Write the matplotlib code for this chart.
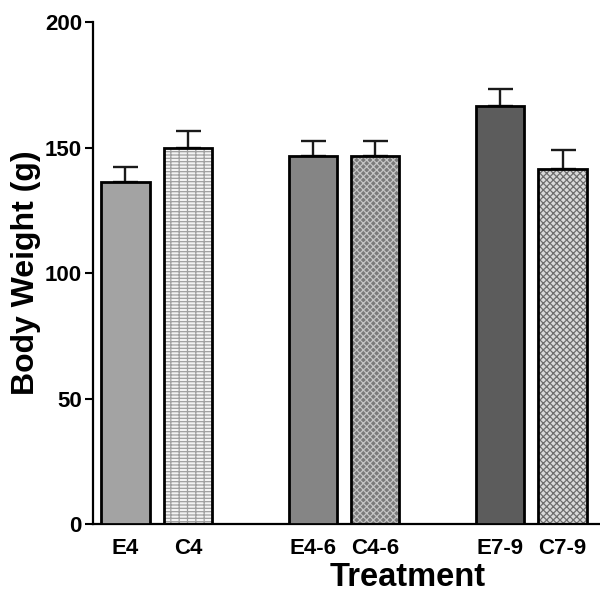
import matplotlib
matplotlib.use("Agg")
import matplotlib.pyplot as plt

# data
groups = ["E4", "C4", "E4-6", "C4-6", "E7-9", "C7-9"]
positions = [0, 1, 3, 4, 6, 7]
weights = [136.4, 150.0, 146.8, 146.5, 166.5, 141.3]
sem = [5.8, 6.8, 6.0, 6.0, 6.7, 7.6]

face_colors = ["#a3a3a3", "#f4f4f4", "#858585", "#7a7a7a", "#5c5c5c", "#dadada"]
hatches = [None, "-----||", None, "xxxxx", None, "xxxxx"]
hatch_colors = [None, "#a0a0a0", None, "#c4c4c4", None, "#6e6e6e"]

plt.rcParams["font.family"] = ["Liberation Sans", "DejaVu Sans"]
plt.rcParams["font.weight"] = "bold"
plt.rcParams["hatch.linewidth"] = 0.9

fig = plt.figure(figsize=(6.0, 5.97), dpi=100)
ax = fig.add_axes([0.155, 0.1223, 0.845, 0.8406])

width = 0.77
for x, y, fc, h, hc in zip(positions, weights, face_colors, hatches, hatch_colors):
    if h:
        # hatch is drawn in the edge colour, so draw the outline separately
        ax.bar(x, y, width, color=fc, edgecolor=hc, hatch=h, linewidth=0, zorder=2)
        ax.bar(x, y, width, fill=False, edgecolor="black", linewidth=2.0, zorder=3)
    else:
        ax.bar(x, y, width, color=fc, edgecolor="black", linewidth=2.0, zorder=3)

ax.errorbar(positions, weights, yerr=[[0] * len(sem), sem], fmt="none",
            ecolor="#1a1a1a", elinewidth=1.7, capsize=9, capthick=1.7, zorder=1)

ax.set_xlim(-0.52, 7.6)
ax.set_ylim(0, 200)
ax.set_yticks([0, 50, 100, 150, 200])
ax.set_xticks(positions)
ax.set_xticklabels(groups)
ax.tick_params(axis="x", length=0, pad=10, labelsize=16)
ax.tick_params(axis="y", length=6, width=1.5, pad=2, labelsize=16)

for side in ["top", "right"]:
    ax.spines[side].set_visible(False)
ax.spines["left"].set_linewidth(1.6)
ax.spines["bottom"].set_linewidth(1.6)

ax.set_ylabel("Body Weight (g)", fontsize=23, fontweight="bold", labelpad=3)
ax.set_xlabel("Treatment", fontsize=23.5, fontweight="bold", labelpad=2, x=0.62)

fig.savefig("out.png", dpi=100)
